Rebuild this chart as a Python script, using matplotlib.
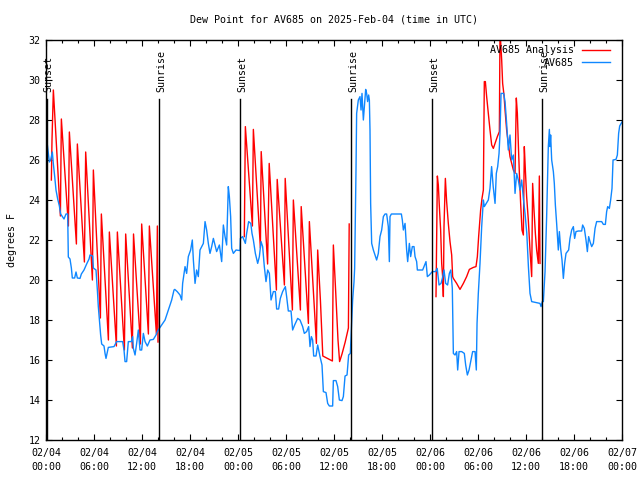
import matplotlib
matplotlib.use('Agg')
import matplotlib.pyplot as plt
from matplotlib.lines import Line2D

# hours since 02/04 00:00 UTC
obs_hours = [0.0, 0.17, 0.42, 0.58, 0.79, 0.92, 1.08, 1.25, 1.46, 1.67, 1.83, 2.25, 2.5, 2.71, 2.79, 3.0, 3.17, 3.29,
             3.58, 3.75, 3.92, 4.25, 4.42, 4.75, 5.08, 5.38, 5.5, 5.83, 5.92, 6.25, 6.42, 6.54, 6.83, 6.96, 7.25, 7.38,
             7.5, 7.79, 8.5, 8.83, 9.58, 9.75, 9.88, 10.08, 10.29, 10.67, 10.83, 10.92, 11.13, 11.33, 11.54, 11.75,
             11.96, 12.17, 12.38, 12.67, 13.0, 13.42, 13.75, 13.92, 14.17, 14.46, 14.88, 15.29, 15.71, 16.0, 16.1,
             16.4, 16.75, 16.96, 17.08, 17.38, 17.58, 17.79, 18.08, 18.29, 18.42, 18.63, 18.83, 19.04, 19.25, 19.46,
             19.67, 19.88, 20.08, 20.29, 20.5, 20.71, 20.92, 21.13, 21.33, 21.67, 21.96, 22.17, 22.38, 22.58, 22.79,
             22.92, 23.08, 23.21, 23.42, 23.75, 24.25, 24.3, 24.58, 24.92, 25.08, 25.33, 25.6, 25.75, 25.92, 26.17,
             26.46, 26.67, 26.88, 27.08, 27.29, 27.5, 27.71, 27.92, 28.13, 28.42, 28.67, 28.83, 29.08, 29.29, 29.58,
             29.92, 30.08, 30.29, 30.63, 30.83, 31.08, 31.46, 31.75, 32.08, 32.29, 32.58, 32.83, 33.0, 33.17, 33.33,
             33.46, 33.75, 33.96, 34.25, 34.5, 34.67, 35.0, 35.21, 35.42, 35.83, 35.92, 36.25, 36.46, 36.67, 37.0,
             37.17, 37.38, 37.63, 37.83, 38.04, 38.17, 38.33, 38.5, 38.58, 38.75, 38.83, 39.04, 39.25, 39.38, 39.5,
             39.67, 39.83, 39.96, 40.08, 40.2, 40.33, 40.42, 40.5, 40.58, 40.71, 40.92, 41.13, 41.33, 41.54, 41.75,
             41.96, 42.17, 42.38, 42.58, 42.79, 42.92, 43.0, 43.17, 44.42, 44.54, 44.67, 44.88, 45.08, 45.21, 45.42,
             45.58, 45.79, 46.0, 46.13, 46.33, 46.42, 47.08, 47.25, 47.5, 47.67, 47.92, 48.29, 48.7, 48.9, 49.13,
             49.38, 49.6, 49.75, 49.96, 50.2, 50.42, 50.6, 50.79, 50.92, 51.13, 51.33, 51.46, 51.63, 51.96, 52.29,
             52.46, 52.67, 52.88, 53.13, 53.33, 53.63, 53.79, 53.88, 54.04, 54.25, 54.46, 54.67, 54.79, 55.04, 55.29,
             55.5, 55.7, 55.9, 56.13, 56.29, 56.46, 56.63, 56.75, 56.88, 57.21, 57.38, 57.58, 57.79, 58.0, 58.21,
             58.42, 58.63, 58.83, 59.04, 59.25, 59.46, 59.67, 59.88, 60.1, 60.3, 60.5, 60.71, 61.75, 61.88, 62.04,
             62.17, 62.38, 62.58, 62.79, 62.92, 63.0, 63.08, 63.21, 63.42, 63.54, 63.67, 63.83, 63.96, 64.04, 64.17,
             64.33, 64.5, 64.67, 64.83, 65.0, 65.17, 65.33, 65.5, 65.71, 65.92, 66.08, 66.25, 66.54, 66.96, 67.08,
             67.29, 67.5, 67.67, 67.83, 68.0, 68.21, 68.42, 68.63, 68.83, 69.46, 69.67, 69.92, 70.08, 70.21, 70.42,
             70.58, 70.75, 70.88, 71.25, 71.42, 71.58, 71.71, 72.0]
obs_dew = [26.6, 26.75, 25.9, 26.0, 26.4, 25.8, 25.2, 24.5, 24.05, 23.7, 23.3, 23.05, 23.3, 23.3, 21.15, 21.05, 20.6,
           20.1, 20.1, 20.4, 20.1, 20.08, 20.3, 20.5, 20.8, 21.05, 21.25, 21.2, 20.6, 20.5, 19.5, 18.67, 17.25, 16.8,
           16.7, 16.33, 16.08, 16.63, 16.67, 16.92, 16.92, 16.5, 15.92, 15.92, 16.92, 16.92, 17.17, 16.58, 16.25,
           16.83, 17.5, 16.5, 16.5, 17.33, 16.92, 16.7, 17.0, 17.03, 17.25, 17.42, 17.58, 17.75, 18.0, 18.5, 19.0,
           19.5, 19.53, 19.42, 19.25, 19.0, 19.83, 20.67, 20.33, 21.17, 21.5, 22.0, 21.0, 19.83, 20.5, 20.17, 21.5,
           21.67, 21.83, 22.92, 22.5, 21.83, 21.33, 21.67, 22.08, 21.75, 21.42, 21.75, 20.92, 22.75, 22.17, 21.75,
           24.67, 24.17, 23.17, 21.58, 21.33, 21.5, 21.47, 22.08, 22.17, 21.83, 22.33, 22.92, 22.83, 22.33, 22.0,
           21.33, 20.83, 21.17, 21.92, 21.67, 20.67, 19.92, 20.5, 20.33, 19.0, 19.42, 19.42, 18.55, 18.55, 19.08,
           19.42, 19.67, 19.17, 18.45, 18.45, 17.5, 17.75, 18.08, 18.0, 17.67, 17.33, 17.42, 17.67, 16.67, 17.17,
           17.0, 16.2, 16.2, 16.75, 16.17, 15.75, 14.42, 14.37, 13.83, 13.7, 13.7, 14.97, 14.97, 14.67, 14.0, 13.97,
           14.17, 15.2, 15.25, 16.25, 16.33, 17.58, 19.0, 19.9, 20.58, 25.5, 28.33, 29.0, 29.17, 28.5, 29.33, 28.0,
           28.83, 29.53, 29.33, 28.92, 29.25, 29.0, 27.5, 23.83, 21.83, 21.5, 21.25, 21.0, 21.33, 22.17, 22.5, 23.17,
           23.3, 23.3, 22.67, 20.92, 23.17, 23.3, 23.3, 23.0, 22.5, 22.83, 21.5, 20.92, 21.83, 21.17, 21.67, 21.67,
           21.17, 20.92, 20.5, 20.5, 20.67, 20.92, 20.17, 20.25, 20.42, 20.42, 20.58, 19.75, 19.83, 20.17, 20.5,
           19.83, 19.75, 20.33, 20.5, 19.58, 16.33, 16.25, 16.42, 15.5, 16.42, 16.42, 16.33, 15.75, 15.25, 15.5,
           16.0, 16.42, 16.42, 15.5, 17.83, 19.33, 20.83, 22.67, 24.0, 23.67, 23.83, 24.0, 24.58, 25.67, 24.67,
           23.83, 25.33, 25.67, 26.33, 27.33, 29.33, 29.33, 28.92, 27.83, 26.5, 27.25, 26.0, 26.25, 24.33, 25.33,
           25.0, 24.5, 25.0, 24.08, 23.33, 22.33, 20.67, 19.33, 18.92, 18.83, 18.67, 18.92, 18.92, 20.42, 23.17,
           26.67, 27.53, 26.67, 27.25, 26.0, 25.42, 24.83, 23.75, 22.83, 22.0, 21.5, 22.42, 21.58, 21.0, 20.08,
           20.83, 21.33, 21.42, 21.5, 22.08, 22.5, 22.67, 22.08, 22.42, 22.45, 22.45, 22.75, 22.58, 22.0, 21.42,
           22.17, 21.92, 21.67, 21.83, 22.58, 22.92, 22.92, 22.78, 22.78, 23.42, 23.67, 23.58, 24.0, 24.58, 26.0,
           26.03, 26.25, 27.33, 27.7, 27.9]

ana1_hours = [0.67, 0.75, 0.92, 1.8, 1.92, 2.8, 2.92, 3.8, 3.92, 4.8, 4.96, 5.8, 5.92, 6.8, 6.92, 7.8, 7.92, 8.8,
              8.92, 9.8, 9.96, 10.8, 10.94, 11.8, 11.96, 12.8, 12.92, 13.8, 13.92, 14.0]
ana1_dew = [25.0, 27.0, 29.5, 23.2, 28.05, 22.7, 27.4, 21.8, 26.8, 20.9, 26.4, 20.0, 25.5, 18.1, 23.3, 17.0, 22.4,
            16.7, 22.4, 16.5, 22.3, 16.6, 22.3, 16.8, 22.8, 17.3, 22.7, 17.3, 22.7, 16.9]
ana2_hours = [24.79, 24.92, 25.8, 25.92, 26.8, 26.9, 27.7, 27.9, 28.8, 28.9, 29.8, 29.9, 30.8, 30.92, 31.8, 31.9,
              32.8, 32.92, 33.8, 33.96, 34.3, 34.6, 35.8, 35.92, 36.2, 36.5, 36.7, 37.0, 37.4, 37.8, 37.9]
ana2_dew = [22.17, 27.67, 22.7, 27.53, 21.6, 26.42, 20.8, 25.83, 19.5, 25.03, 19.75, 25.08, 18.5, 24.0, 18.5, 23.67,
            17.83, 22.92, 16.83, 21.5, 19.0, 16.2, 15.95, 21.75, 19.5, 17.0, 15.92, 16.3, 16.9, 17.6, 22.8]
ana3_hours = [48.75, 48.92, 49.04, 49.17, 49.33, 49.46, 49.58, 49.67, 49.75, 49.92, 50.08, 50.29, 50.5, 50.71,
              50.83, 50.92, 51.33, 51.75, 52.17, 52.58, 52.92, 53.42, 53.75, 53.92, 54.08, 54.33, 54.5, 54.67, 54.79,
              54.92, 55.08, 55.29, 55.5, 55.71, 55.92, 56.13, 56.42, 56.67, 56.75, 56.96, 57.08, 57.25, 57.38, 57.58,
              57.79, 58.0, 58.21, 58.42, 58.63, 58.79, 58.92, 59.04, 59.17, 59.33, 59.5, 59.67, 59.79, 59.92, 60.08,
              60.29, 60.5, 60.71, 60.83, 61.0, 61.17, 61.33, 61.54, 61.67, 61.75]
ana3_dew = [19.17, 25.2, 24.75, 23.67, 22.5, 20.83, 20.17, 19.17, 22.67, 25.08, 23.92, 22.83, 21.92, 21.25, 20.17,
            20.08, 19.83, 19.53, 19.83, 20.17, 20.53, 20.63, 20.67, 21.17, 22.17, 23.5, 24.08, 24.5, 29.92, 29.92,
            29.17, 28.33, 27.5, 26.75, 26.58, 26.83, 27.17, 27.42, 32.5, 31.0, 29.83, 29.25, 28.5, 27.5, 26.83, 26.17,
            25.83, 25.5, 25.33, 29.1, 28.33, 26.83, 25.33, 23.83, 22.5, 22.25, 26.67, 25.5, 24.17, 23.0, 21.5, 20.17,
            24.83, 23.5, 22.33, 21.5, 20.83, 25.2, 20.83]

sun_hours = [0.08, 14.12, 24.3, 38.15, 48.3, 62.05]
sun_labels = ['Sunset', 'Sunrise', 'Sunset', 'Sunrise', 'Sunset', 'Sunrise']

tick_hours = [0, 6, 12, 18, 24, 30, 36, 42, 48, 54, 60, 66, 72]
tick_days = ['02/04'] * 4 + ['02/05'] * 4 + ['02/06'] * 4 + ['02/07']
tick_times = ['00:00', '06:00', '12:00', '18:00'] * 3 + ['00:00']

red = '#ff0000'
blue = '#0f87ff'

plt.rcParams['font.family'] = ['DejaVu Sans Mono']
plt.rcParams['font.size'] = 7.2

fig = plt.figure(figsize=(6.4, 4.8), dpi=100)
ax = fig.add_axes([46 / 640, 40 / 480, 576 / 640, 400 / 480])

for t, v in [(ana1_hours, ana1_dew), (ana2_hours, ana2_dew), (ana3_hours, ana3_dew)]:
    ax.plot(t, v, color=red, lw=1.0)
ax.plot(obs_hours, obs_dew, color=blue, lw=1.0)

for h, lab in zip(sun_hours, sun_labels):
    ax.plot([h, h], [12, 29.05], color='black', lw=1.0)
    ax.text(h + 0.25, 29.4, lab, rotation=90, ha='center', va='bottom')

ax.set_xlim(0, 72)
ax.set_ylim(12, 32)
ax.set_xticks(tick_hours)
ax.set_xticklabels([d + '\n' + t for d, t in zip(tick_days, tick_times)], linespacing=1.4)
ax.set_xticks(range(0, 73, 2), minor=True)
ax.set_yticks(range(12, 33, 2))
ax.tick_params(which='both', direction='in', top=True, right=True, width=0.8)
ax.tick_params(which='major', length=4.5)
ax.tick_params(which='minor', length=2.5)
ax.tick_params(axis='x', pad=6)
ax.tick_params(axis='y', pad=4)
for s in ax.spines.values():
    s.set_linewidth(1.0)

ax.set_ylabel('degrees F', labelpad=8)
fig.text(334 / 640, 1 - 20 / 480, 'Dew Point for AV685 on 2025-Feb-04 (time in UTC)', ha='center', va='center')

# legend drawn by hand, gnuplot style
ax.text(0.9167, 0.974, 'AV685 Analysis', transform=ax.transAxes, ha='right', va='center')
ax.add_line(Line2D([0.9306, 0.979], [0.9755, 0.9755], transform=ax.transAxes, color=red, lw=1.0))
ax.text(0.9167, 0.943, 'AV685', transform=ax.transAxes, ha='right', va='center')
ax.add_line(Line2D([0.9306, 0.979], [0.9445, 0.9445], transform=ax.transAxes, color=blue, lw=1.0))

fig.savefig('out.png', dpi=100)
